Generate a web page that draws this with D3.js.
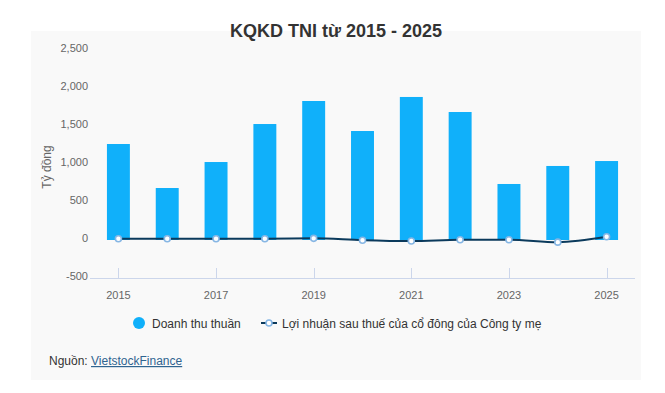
<!DOCTYPE html>
<html><head><meta charset="utf-8">
<script src="https://cdn.jsdelivr.net/npm/d3@7/dist/d3.min.js"></script>
<style>
html,body{margin:0;padding:0;background:#fff;}
svg{display:block;font-family:"Liberation Sans",Arial,sans-serif;}
</style></head>
<body><svg id="c" width="665" height="393"></svg>
<script>
const years = ["2015","2016","2017","2018","2019","2020","2021","2022","2023","2024","2025"];
const revenue = [1263, 684, 1026, 1526, 1829, 1434, 1882, 1684, 737, 974, 1039];
const profit = [17, 17, 17, 17, 22, -3, -14, 4, 4, -28, 42];
const yTicks = [-500, 0, 500, 1000, 1500, 2000, 2500];
const xTickLabels = ["2015","2017","2019","2021","2023","2025"];
const seriesNames = ["Doanh thu thuần", "Lợi nhuận sau thuế của cổ đông của Công ty mẹ"];

const svg = d3.select("#c");
svg.append("rect").attr("x",31).attr("y",31).attr("width",610).attr("height",349).attr("fill","#f9f9f9");

const plot = {left:94, right:631, top:50, bottom:278};
const x = d3.scaleBand().domain(years).range([plot.left, plot.right]).paddingInner(0.53).paddingOuter(0.265);
const y = d3.scaleLinear().domain([-500, 2500]).range([plot.bottom, plot.top]);

svg.append("text").attr("x",336).attr("y",37).attr("text-anchor","middle")
  .attr("font-size",18).attr("font-weight","bold").attr("fill","#333").text("KQKD TNI từ 2015 - 2025");

const fmt = d3.format(",");
const ya = svg.append("g").attr("transform",`translate(${plot.left-6},0)`)
  .call(d3.axisLeft(y).tickValues(yTicks).tickSize(0).tickPadding(0).tickFormat(d => fmt(d).replace("\u2212","-")));
ya.select(".domain").remove();
ya.selectAll("text").attr("font-size",11).attr("fill","#666").attr("font-family","Liberation Sans, Arial, sans-serif").attr("dy","0.1em");

svg.append("text").attr("transform","translate(51,167) rotate(-90)").attr("text-anchor","middle")
  .attr("font-size",12).attr("fill","#666").text("Tỷ đồng");

svg.append("g").selectAll("rect").data(years).join("rect")
  .attr("x",d=>x(d)).attr("width",x.bandwidth())
  .attr("y",(d,i)=>y(Math.max(0,revenue[i])))
  .attr("height",(d,i)=>Math.abs(y(revenue[i])-y(0)))
  .attr("fill","#10b0fa");

const xc = d => x(d)+x.bandwidth()/2;
svg.append("line").attr("x1",plot.left-4).attr("x2",plot.right+4).attr("y1",plot.bottom+0.5).attr("y2",plot.bottom+0.5)
  .attr("stroke","#ccd6eb").attr("stroke-width",1);
const xa = svg.append("g").attr("transform",`translate(0,${plot.bottom})`)
  .call(d3.axisBottom(x).tickValues(xTickLabels).tickSize(0).tickPadding(13));
xa.select(".domain").remove();
xa.selectAll("text").attr("font-size",11).attr("fill","#666").attr("font-family","Liberation Sans, Arial, sans-serif");
svg.append("g").selectAll("line").data(xTickLabels).join("line")
  .attr("x1",d=>Math.round(xc(d))+0.5).attr("x2",d=>Math.round(xc(d))+0.5)
  .attr("y1",plot.bottom-10).attr("y2",plot.bottom).attr("stroke","#ccd6eb");

const line = d3.line().x((d,i)=>xc(years[i])).y(d=>y(d)).curve(d3.curveMonotoneX);
svg.append("path").datum(profit).attr("d",line).attr("fill","none").attr("stroke","#0b3a5c").attr("stroke-width",2);
svg.append("g").selectAll("circle").data(profit).join("circle")
  .attr("cx",(d,i)=>xc(years[i])).attr("cy",d=>y(d)).attr("r",3)
  .attr("fill","#fff").attr("stroke","#86b6e4").attr("stroke-width",1.6);

const lg = svg.append("g");
lg.append("circle").attr("cx",139).attr("cy",323).attr("r",6).attr("fill","#10b0fa");
lg.append("text").attr("x",152).attr("y",327.5).attr("font-size",12).attr("fill","#333").text(seriesNames[0]);
lg.append("line").attr("x1",261).attr("x2",277).attr("y1",323).attr("y2",323).attr("stroke","#0b3a5c").attr("stroke-width",2);
lg.append("circle").attr("cx",269).attr("cy",323).attr("r",3).attr("fill","#fff").attr("stroke","#86b6e4").attr("stroke-width",1.6);
lg.append("text").attr("x",282).attr("y",327.5).attr("font-size",12).attr("fill","#333").text(seriesNames[1]);

const src = svg.append("text").attr("x",49).attr("y",365).attr("font-size",12).attr("fill","#333");
src.append("tspan").text("Nguồn: ");
src.append("tspan").attr("fill","#2f6490").attr("text-decoration","underline").text("VietstockFinance");
</script></body></html>
